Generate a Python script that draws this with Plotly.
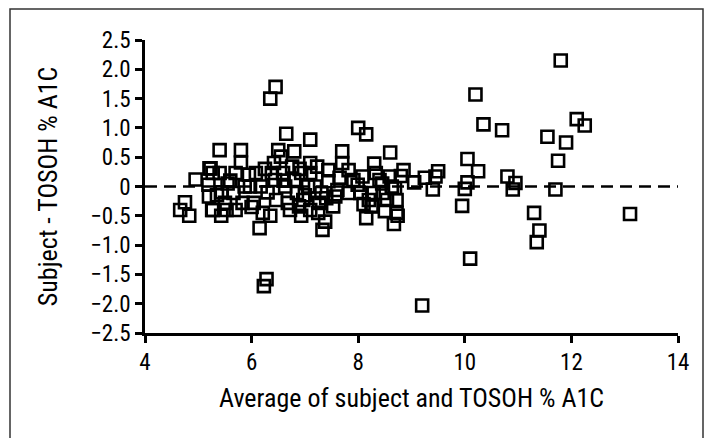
import plotly.graph_objects as go

# Average of subject and TOSOH % A1C (x) and difference (y)
avg_a1c = [
    11.8, 6.45, 6.35, 10.2, 10.35, 10.7, 12.1, 12.25, 11.55, 11.9, 11.75, 11.7,
    11.3, 11.4, 11.35, 13.1, 10.1, 9.2, 6.28, 6.23, 10.05, 10.25, 10.05, 10.0,
    9.95, 10.8, 10.95, 10.9, 9.4, 9.5, 9.45, 9.05, 9.25, 8.85, 8.8, 8.6,
    8.0, 8.15, 7.1, 6.65, 5.4, 5.8, 5.8, 7.7, 6.8, 6.5, 8.3, 4.95,
    5.23, 4.75, 4.66, 4.83, 6.15, 6.35, 6.93, 7.33, 7.38, 8.15, 8.67, 8.74,
    8.5, 8.27, 5.43, 5.26, 5.53,
    5.21, 5.27, 5.19, 5.2, 5.27, 5.4, 5.44, 5.5, 5.66, 5.7, 5.7, 5.83,
    5.87, 5.97, 6.04, 6.08, 6.17, 6.21, 6.38, 6.42, 6.44, 6.46, 6.55, 6.59,
    6.63, 6.68, 6.72, 6.76, 6.8, 6.85, 6.89, 6.93, 6.97, 7.06, 7.1, 7.1,
    7.1, 7.19, 7.23, 7.27, 7.31, 7.44, 7.44, 7.53, 7.57, 7.61, 7.7, 7.82,
    7.82, 7.91, 7.99, 8.04, 8.08, 8.2, 8.25, 8.29, 8.33, 8.4, 8.46, 8.54,
    8.59, 8.63, 8.69, 8.72, 8.72, 5.6, 5.95, 6.3, 6.9, 7.4, 7.0, 6.6,
    5.35, 5.55, 6.0, 7.65, 8.1, 8.45, 7.25, 6.25,
]
diff_a1c = [
    2.15, 1.7, 1.5, 1.57, 1.06, 0.96, 1.15, 1.04, 0.85, 0.75, 0.44, -0.05,
    -0.45, -0.75, -0.95, -0.47, -1.23, -2.03, -1.58, -1.7, 0.47, 0.26, 0.07, -0.04,
    -0.33, 0.17, 0.06, -0.05, -0.05, 0.26, 0.17, 0.07, 0.15, 0.28, 0.18, 0.58,
    1.0, 0.89, 0.8, 0.9, 0.62, 0.62, 0.41, 0.6, 0.6, 0.62, 0.39, 0.12,
    0.31, -0.27, -0.4, -0.5, -0.71, -0.5, -0.5, -0.74, -0.6, -0.54, -0.64, -0.5,
    -0.42, -0.33, -0.5, -0.4, -0.4,
    0.31, 0.23, 0.03, -0.17, -0.4, 0.23, -0.1, -0.28, -0.11, 0.23, -0.4, -0.28,
    0.0, 0.0, -0.28, 0.23, 0.0, -0.45, 0.23, 0.4, 0.11, -0.23, 0.51, 0.23,
    0.0, -0.28, -0.4, 0.34, 0.11, -0.11, -0.34, 0.23, -0.23, 0.0, 0.4, 0.23,
    -0.4, 0.0, 0.34, -0.28, -0.11, 0.28, 0.09, -0.34, -0.17, -0.06, 0.4, 0.28,
    -0.11, 0.11, 0.03, -0.11, 0.17, -0.23, -0.34, -0.11, 0.23, 0.11, -0.11, -0.23,
    0.17, 0.0, -0.03, -0.23, -0.45, 0.1, 0.2, -0.1, 0.3, -0.2, -0.15, 0.1,
    -0.15, 0.05, -0.35, 0.15, -0.3, 0.05, -0.45, 0.3,
]

x_ticks = [4, 6, 8, 10, 12, 14]
y_ticks = [-2.5, -2.0, -1.5, -1.0, -0.5, 0, 0.5, 1.0, 1.5, 2.0, 2.5]
y_tick_text = ["\u22122.5", "\u22122.0", "\u22121.5", "\u22121.0", "\u22120.5", "0",
               "0.5", "1.0", "1.5", "2.0", "2.5"]

FONT = "Liberation Sans Narrow, Arial Narrow, Roboto Condensed, Liberation Sans, sans-serif"

fig = go.Figure()
fig.add_trace(go.Scatter(
    x=avg_a1c, y=diff_a1c, mode="markers",
    marker=dict(symbol="square-open", size=12, color="black",
                line=dict(color="black", width=2.6)),
    cliponaxis=False, showlegend=False,
))

# zero reference line
fig.add_shape(type="line", xref="x", yref="y", x0=x_ticks[0], x1=x_ticks[-1], y0=0, y1=0,
              line=dict(color="black", width=2.5, dash="12px,7px"), layer="below")

# outer frame
L, R, T, B = 145, 678, 40, 333
W, H = 709, 438
def px(v): return (v - L) / (R - L)
def py(v): return (B - v) / (B - T)
fig.add_shape(type="rect", xref="paper", yref="paper",
              x0=px(10), x1=px(703), y0=py(9), y1=py(445),
              line=dict(color="#333333", width=1.5), fillcolor="rgba(0,0,0,0)")

fig.update_layout(
    width=W, height=H,
    margin=dict(l=L, r=W - R, t=T, b=H - B),
    paper_bgcolor="white", plot_bgcolor="white",
    font=dict(family=FONT, color="black", size=18),
    xaxis=dict(range=[4, 14], tickvals=x_ticks, showgrid=False, zeroline=False,
               showline=True, linecolor="black", linewidth=2.5,
               ticks="outside", ticklen=7, tickwidth=2.5, tickcolor="black",
               tickfont=dict(size=23, family=FONT),
               title=dict(text="Average of subject and TOSOH % A1C", standoff=14,
                          font=dict(size=26, family=FONT))),
    yaxis=dict(range=[-2.5, 2.5], tickvals=y_ticks, ticktext=y_tick_text,
               showgrid=False, zeroline=False,
               showline=True, linecolor="black", linewidth=2.5,
               ticks="outside", ticklen=7, tickwidth=2.5, tickcolor="black",
               tickfont=dict(size=23, family=FONT),
               title=dict(text="Subject - TOSOH % A1C", standoff=26,
                          font=dict(size=26, family=FONT))),
)

fig.write_html("out.html")
